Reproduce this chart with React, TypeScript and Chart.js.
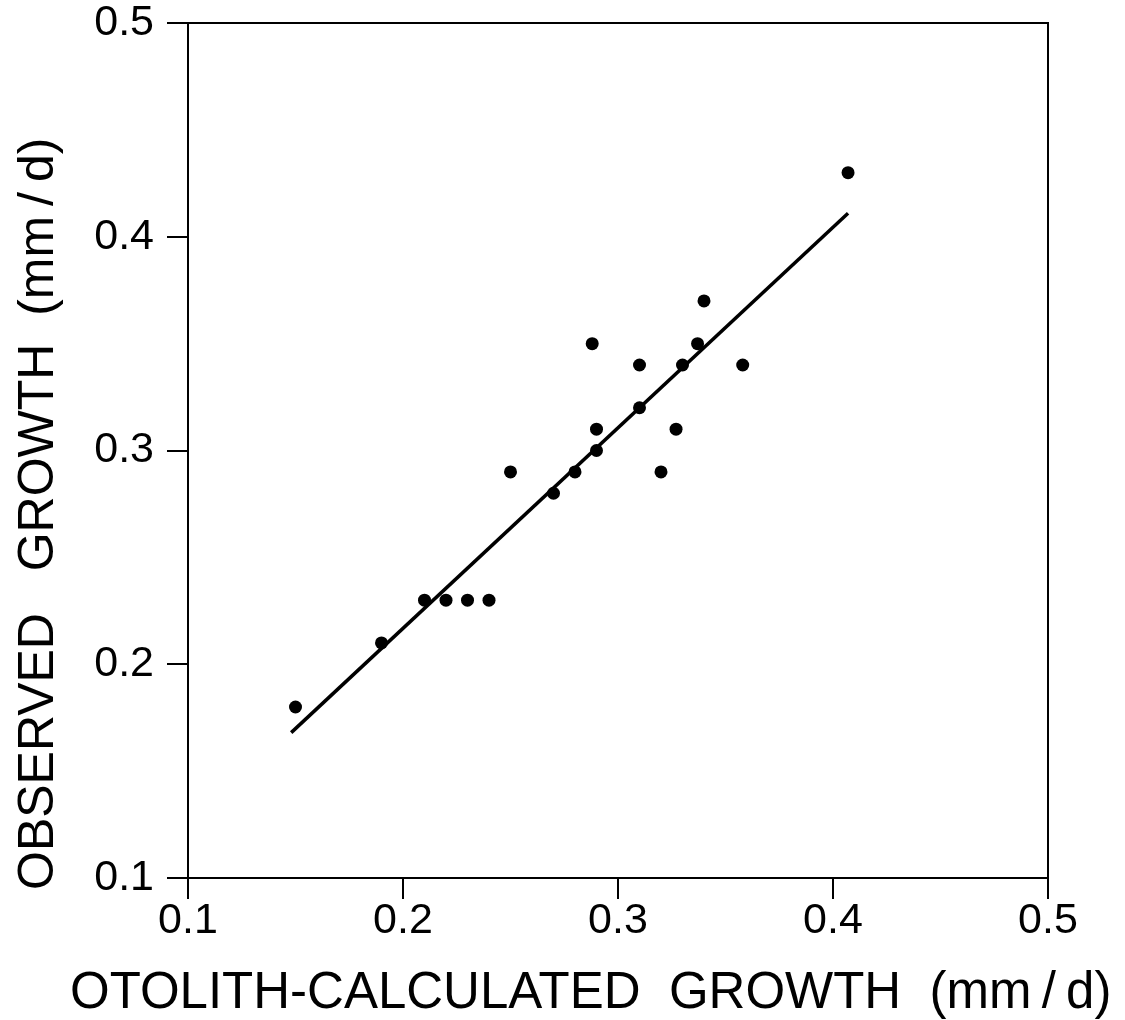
import React, { useEffect, useRef } from "react";
import { Chart, registerables } from "chart.js";

Chart.register(...registerables);

// Observed data (otolith-calculated growth vs observed growth, mm/d)
const calcGrowth = [0.15, 0.19, 0.21, 0.22, 0.23, 0.24, 0.25, 0.27, 0.28, 0.288, 0.29, 0.29, 0.31, 0.31, 0.32, 0.327, 0.33, 0.337, 0.34, 0.358, 0.407];
const obsGrowth = [0.18, 0.21, 0.23, 0.23, 0.23, 0.23, 0.29, 0.28, 0.29, 0.35, 0.31, 0.30, 0.34, 0.32, 0.29, 0.31, 0.34, 0.35, 0.37, 0.34, 0.43];

// Regression line end points
const fitX = [0.148, 0.407];
const fitY = [0.168, 0.411];

const tickValues = [0.1, 0.2, 0.3, 0.4, 0.5];
const xTitle = "OTOLITH-CALCULATED  GROWTH  (mm\u2009/\u2009d)";
const yTitle = "OBSERVED   GROWTH  (mm\u2009/\u2009d)";

const FONT = "'Liberation Sans', Arial, Helvetica, sans-serif";

// Draws the top/right frame and the two axis titles (real text, unconstrained width)
const framePlugin = {
  id: "frame",
  afterDraw(chart: any) {
    const { ctx, chartArea } = chart;
    const { left, top, right, bottom } = chartArea;
    ctx.save();
    ctx.strokeStyle = "#000";
    ctx.lineWidth = 2;
    ctx.beginPath();
    ctx.moveTo(left, top);
    ctx.lineTo(right, top);
    ctx.lineTo(right, bottom);
    ctx.stroke();

    ctx.fillStyle = "#000";
    // x title
    ctx.font = `51px ${FONT}`;
    ctx.textAlign = "left";
    ctx.textBaseline = "alphabetic";
    ctx.fillText(xTitle, left - 118, bottom + 130);

    // y title (rotated, reading bottom to top)
    ctx.font = `50px ${FONT}`;
    ctx.translate(left - 135, bottom + 12);
    ctx.rotate(-Math.PI / 2);
    ctx.textAlign = "left";
    ctx.textBaseline = "alphabetic";
    ctx.fillText(yTitle, 0, 0);
    ctx.restore();
  },
};

export default function App() {
  const canvasRef = useRef<HTMLCanvasElement | null>(null);

  useEffect(() => {
    if (!canvasRef.current) return;
    const points = calcGrowth.map((x, i) => ({ x, y: obsGrowth[i] }));
    const line = fitX.map((x, i) => ({ x, y: fitY[i] }));

    const axisCommon = () => ({
      type: "linear" as const,
      min: 0.1,
      max: 0.5,
      afterBuildTicks: (scale: any) => {
        scale.ticks = tickValues.map((v) => ({ value: v }));
      },
      ticks: {
        color: "#000",
        font: { family: FONT, size: 43, lineHeight: 1 },
        callback: (v: any) => Number(v).toFixed(1),
        maxRotation: 0,
        autoSkip: false,
      },
      grid: {
        display: true,
        drawOnChartArea: false,
        drawTicks: true,
        tickLength: 21,
        color: "#000",
        lineWidth: 2,
      },
      border: { display: true, color: "#000", width: 2 },
      title: { display: false },
    });

    const xAxis: any = axisCommon();
    xAxis.ticks.padding = 1;
    xAxis.afterFit = (s: any) => {
      s.height = 142;
      s.paddingLeft = 0;
      s.paddingRight = 0;
    };
    const yAxis: any = axisCommon();
    yAxis.ticks.padding = 13;
    yAxis.afterFit = (s: any) => {
      s.width = 188;
      s.paddingTop = 0;
      s.paddingBottom = 0;
    };

    const chart = new Chart(canvasRef.current, {
      type: "scatter",
      data: {
        datasets: [
          {
            data: points,
            backgroundColor: "#000",
            borderColor: "#000",
            pointRadius: 6.5,
            borderWidth: 0,
          },
          {
            data: line,
            showLine: true,
            borderColor: "#000",
            borderWidth: 3.5,
            pointRadius: 0,
            fill: false,
          } as any,
        ],
      },
      options: {
        animation: false,
        responsive: false,
        maintainAspectRatio: false,
        layout: { padding: { top: 23, right: 77, left: 0, bottom: 0 } },
        plugins: {
          legend: { display: false },
          tooltip: { enabled: false },
        },
        scales: { x: xAxis, y: yAxis },
      },
      plugins: [framePlugin],
    });

    return () => chart.destroy();
  }, []);

  return (
    <div style={{ position: "absolute", left: 0, top: 0, width: 1125, height: 1020, background: "#fff" }}>
      <canvas ref={canvasRef} width={1125} height={1020} style={{ display: "block" }} />
    </div>
  );
}
